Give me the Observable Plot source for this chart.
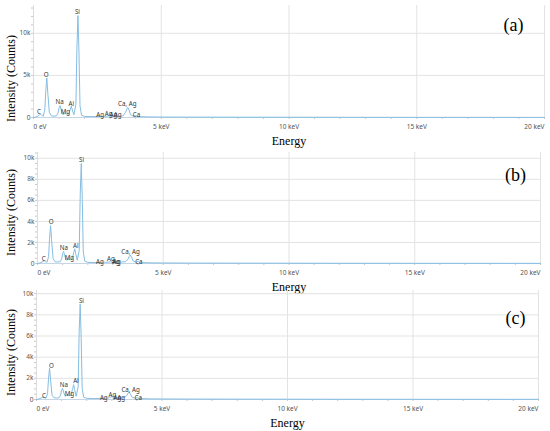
<!DOCTYPE html>
<html><head><meta charset="utf-8">
<script src="https://cdn.jsdelivr.net/npm/d3@7"></script>
<script src="https://cdn.jsdelivr.net/npm/@observablehq/plot@0.6"></script>
<style>
body{margin:0;background:#fff;}
#fig{position:relative;width:550px;height:431px;overflow:hidden;background:#fff;}
#fig svg{position:absolute;left:0;overflow:visible;background:transparent;}
</style></head><body><div id="fig"></div>
<script>
// Energy axis (keV) shared by the three spectra
const energy = [0,0.1,0.18,0.24,0.28,0.32,0.38,0.44,0.48,0.52,
  0.56,0.62,0.7,0.8,0.9,0.96,1.0,1.04,1.08,1.14,
  1.2,1.25,1.3,1.38,1.44,1.48,1.52,1.58,1.66,1.70,
  1.74,1.78,1.82,1.88,2.0,2.3,2.6,2.65,2.7,2.9,
  2.98,3.05,3.15,3.3,3.5,3.6,3.65,3.69,3.74,3.8,
  3.9,4.01,4.1,4.5,5,6,8,10,12,14,
  16,18,20];
// Counts, panel (a)
const countsA = [0,60,180,340,400,260,150,850,3100,4700,
  2900,600,200,160,200,520,1150,1400,920,360,
  400,500,380,430,1000,1350,900,320,1550,8400,
  12100,7700,1400,260,130,100,120,140,120,160,
  260,220,200,140,190,580,980,1200,880,340,
  160,210,100,70,55,45,35,30,25,20,
  18,15,12];
// Counts, panel (b)
const countsB = [0,50,140,220,250,170,120,650,2400,3600,
  2250,470,170,140,170,440,950,1150,760,320,
  370,450,350,420,1050,1400,930,310,1250,6700,
  9500,6100,1100,220,110,90,110,130,110,150,
  270,220,190,130,170,420,680,800,600,250,
  140,180,90,60,50,40,32,28,22,18,
  16,14,12];
// Counts, panel (c)
const countsC = [0,50,130,200,230,160,120,560,2000,2950,
  1850,400,160,140,170,420,880,1050,700,310,
  370,450,350,420,1050,1400,930,310,1200,6400,
  9000,5800,1050,210,110,90,110,130,110,150,
  260,210,190,130,170,380,600,700,520,230,
  140,170,90,60,50,40,32,28,22,18,
  16,14,12];

// Peak labels
const labelNames = ["C","O","Na","Mg","Al","Si","Ag","Ag","Ag","Ag","Ca, Ag","Ca"];
const labelEnergyA = [0.21,0.5,1.02,1.25,1.48,1.72,2.61,2.94,3.13,3.29,3.67,4.03];
const labelCountA  = [630,5000,1800,630,1630,12500,240,440,240,240,1550,240];
const labelEnergyB = [0.25,0.54,1.05,1.27,1.52,1.75,2.48,2.92,3.12,3.16,3.7,4.03];
const labelCountB  = [450,3900,1460,540,1700,9800,150,450,150,150,1080,120];
const labelEnergyC = [0.3,0.59,1.09,1.31,1.57,1.79,2.68,3.02,3.22,3.37,3.75,4.05];
const labelCountC  = [310,3200,1330,540,1750,9340,100,380,120,120,940,100];

// Tick values
const xMajor = [0,5,10,15,20];
const xMinor = d3.range(0,21,1);
const yTicksA = [0,5000,10000];
const yTicksBC = [0,2000,4000,6000,8000,10000];
const panelTags = ["(a)","(b)","(c)"];
const yTitle = "Intensity (Counts)";
const xTitle = "Energy";

const sans = "'Noto Sans', 'Open Sans', sans-serif";
const serif = "'Liberation Serif', 'DejaVu Serif', serif";
const fmtX = d => d === 0 ? "0 eV" : d + " keV";
const fmtY = d => d === 0 ? "0" : (d/1000) + "k";

function panel(p) {
  const data = energy.map((e,i) => ({e, c: p.counts[i]}));
  const labels = labelNames.map((n,i) => ({n, e: p.labelE[i], c: p.labelC[i]}));
  const tickStyle = {fontSize: 6.5, fontFamily: sans, fill: "#555", label: null};
  const chart = Plot.plot({
    width: 550, height: p.height,
    marginTop: p.mt, marginBottom: p.mb, marginLeft: p.ml, marginRight: p.mr,
    style: {background: "transparent", overflow: "visible"},
    x: {domain: [0,20], label: null},
    y: {domain: [0,p.yMax], label: null},
    marks: [
      Plot.gridX([5,10,15,20], {stroke: "#e3e3e3", strokeOpacity: 1}),
      Plot.gridY(p.yTicks.filter(d => d > 0), {stroke: "#e3e3e3", strokeOpacity: 1}),
      Plot.ruleX([0], {stroke: "#dcdcdc"}),
      Plot.axisY(p.yMinor, {tickSize: 2, tickFormat: () => "", stroke: "#c8c8c8", label: null}),
      Plot.axisX(xMinor, {tickSize: 2, tickFormat: () => "", stroke: "#c8c8c8", label: null}),
      Plot.axisY(p.yTicks, {tickSize: 0, tickPadding: 3, tickFormat: fmtY, ...tickStyle}),
      Plot.axisX([0], {tickSize: 0, tickPadding: 7, tickFormat: fmtX, textAnchor: "start", ...tickStyle}),
      Plot.axisX([5,10,15], {tickSize: 0, tickPadding: 7, tickFormat: fmtX, ...tickStyle}),
      Plot.axisX([20], {tickSize: 0, tickPadding: 7, tickFormat: fmtX, textAnchor: "end", ...tickStyle}),
      Plot.ruleY([0], {stroke: "#c6d6e4"}),
      Plot.line(data, {x: "e", y: "c", stroke: "#86bde3", strokeWidth: 1}),
      Plot.text(labels, {x: "e", y: "c", text: "n", fontSize: 6.2, fontFamily: sans, fill: "#333",
        textAnchor: "middle", lineAnchor: "middle"}),
      Plot.text([p.tag], {frameAnchor: "top-right", dx: p.tagDx, dy: p.tagDy, fontSize: 18,
        fontFamily: serif, fill: "#000", textAnchor: "middle", lineAnchor: "middle"}),
      Plot.text([yTitle], {frameAnchor: "left", rotate: -90, dx: p.ylDx, dy: p.ylDy, fontSize: 12,
        fontFamily: serif, fill: "#000", textAnchor: "middle", lineAnchor: "middle"}),
      Plot.text([xTitle], {frameAnchor: "bottom", dy: 24, fontSize: 12, fontFamily: serif,
        fill: "#000", textAnchor: "middle", lineAnchor: "middle"})
    ]
  });
  chart.style.top = p.top + "px";
  document.getElementById("fig").appendChild(chart);
}

panel({counts: countsA, labelE: labelEnergyA, labelC: labelCountA, tag: panelTags[0],
  top: 0, height: 150, mt: 5, mb: 33, ml: 33, mr: 6, yMax: 13300,
  yTicks: yTicksA, yMinor: d3.range(0,13001,1000),
  tagDx: -31, tagDy: 20, ylDx: -22.5, ylDy: 17});
panel({counts: countsB, labelE: labelEnergyB, labelC: labelCountB, tag: panelTags[1],
  top: 148, height: 145, mt: 4, mb: 30, ml: 37, mr: 10, yMax: 10550,
  yTicks: yTicksBC, yMinor: d3.range(0,10501,500),
  tagDx: -25, tagDy: 23, ylDx: -26.5, ylDy: 4.5});
panel({counts: countsC, labelE: labelEnergyC, labelC: labelCountC, tag: panelTags[2],
  top: 284, height: 147, mt: 6, mb: 32, ml: 36, mr: 12, yMax: 10300,
  yTicks: yTicksBC, yMinor: d3.range(0,10001,500),
  tagDx: -23, tagDy: 28, ylDx: -25.5, ylDy: 7.5});
</script>
</body></html>
